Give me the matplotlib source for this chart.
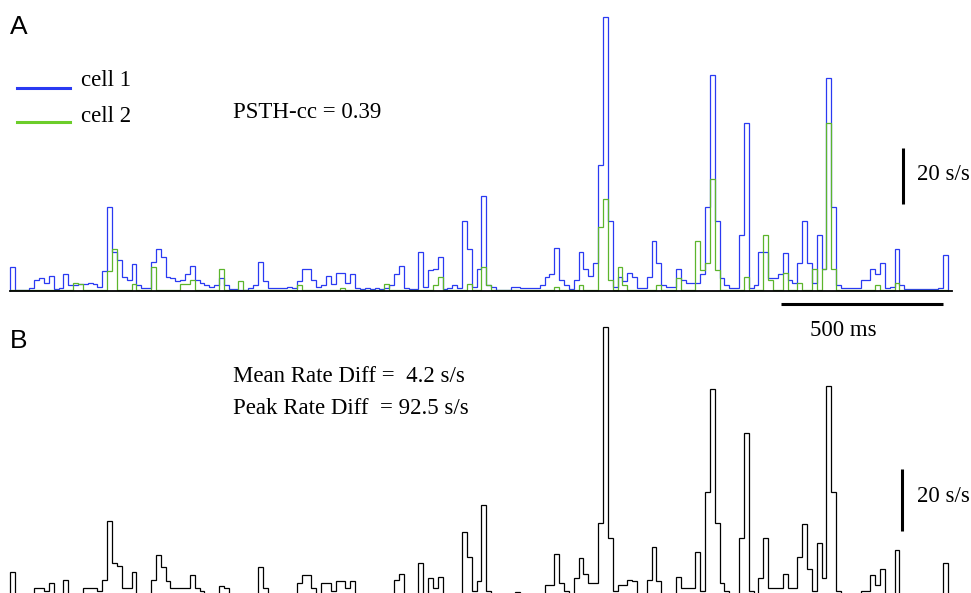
import numpy as np
import matplotlib
matplotlib.use("Agg")
import matplotlib.pyplot as plt
from matplotlib.lines import Line2D

# PSTH bins (ms) and firing rates (spikes/s)
bin_ms = 15.0

cell1 = [8.5, 0.5, 0.5, 0.5, 1, 4, 4.5, 3, 5.5, 0.7,
         1, 6, 2, 2, 2.5, 2.5, 3, 2.5, 1.5, 7,
         30, 14, 11, 5, 4, 9.5, 2, 1, 1, 10.5,
         15, 12, 5, 4.5, 3.5, 4, 6, 9, 4, 3,
         2, 1.5, 2, 4.5, 2, 0.7, 0.7, 0.5, 0.5, 1,
         2, 10.5, 3.5, 1, 1, 1.2, 1, 1.5, 1, 3.5,
         8, 8, 4, 1.5, 2, 5.5, 2.5, 6.5, 6.5, 3,
         6, 1, 0.7, 1, 0.7, 1, 0.7, 1, 2, 6,
         9, 1, 0.7, 0.7, 14, 1.5, 7.5, 8, 12, 0.7,
         1, 2, 1, 25, 15, 1.5, 8, 34, 2, 1.5,
         0.5, 0.5, 0.5, 1.5, 1.5, 1, 1, 1, 1, 2,
         5, 6, 15.5, 4, 2, 0.7, 4, 14, 8, 5.5,
         10, 45, 98, 25, 1.5, 5, 3.5, 6.5, 5, 1,
         1, 5, 18, 10, 2, 1.5, 1.5, 8, 4, 3,
         3, 3, 6, 30, 77, 25, 4.5, 2, 1, 1,
         20, 60, 1, 2, 14, 14, 4.5, 4.5, 6, 13.5,
         4, 3, 10, 25, 10, 3, 20, 8, 76, 30,
         2, 1, 1, 1, 1, 4, 4, 8, 6, 10,
         1, 1.5, 15, 2, 0.7, 0.7, 0.7, 0.7, 0.7, 0.7,
         0.7, 1, 13]

cell2 = [0.3, 0.3, 0.3, 0.3, 0.3, 0.3, 0.3, 0.3, 0.3, 0.3,
         0.3, 0.3, 0.3, 3, 2.5, 0.3, 0.3, 0.3, 0.3, 0.3,
         7, 15, 0.3, 0.3, 0.3, 2.5, 0.3, 0.3, 0.3, 8.5,
         0.3, 0.3, 0.3, 0.3, 0.3, 2.5, 2.5, 4, 0.3, 0.3,
         0.3, 0.3, 0.3, 8, 0.3, 0.3, 0.3, 3.5, 0.3, 0.3,
         0.3, 0.3, 0.3, 0.3, 0.3, 0.3, 0.3, 0.3, 0.3, 2,
         0.3, 0.3, 0.3, 0.3, 0.3, 0.3, 0.3, 0.3, 1, 0.3,
         0.3, 0.3, 0.3, 0.3, 0.3, 0.3, 0.3, 2.5, 0.3, 0.3,
         0.3, 0.3, 0.3, 0.3, 0.3, 0.3, 0.3, 2, 5, 0.3,
         0.3, 0.3, 0.3, 0.3, 2.5, 0.3, 0.3, 8.5, 2, 0.3,
         0.3, 0.3, 0.3, 0.3, 0.3, 0.3, 0.3, 0.3, 0.3, 0.3,
         0.3, 0.3, 1.5, 0.3, 0.3, 0.3, 0.3, 2, 0.3, 0.3,
         0.3, 23, 33, 4, 0.3, 8.5, 2, 0.3, 0.3, 0.3,
         0.3, 0.3, 0.3, 2, 0.3, 0.3, 0.3, 4.5, 0.3, 0.3,
         0.3, 18, 7.5, 10, 40, 7.5, 0.3, 0.3, 0.3, 0.3,
         0.3, 5, 0.3, 0.3, 0.3, 20, 4, 0.3, 0.3, 6.5,
         0.3, 0.3, 3, 0.3, 0.3, 8, 0.3, 8, 60, 8,
         0.3, 0.3, 0.3, 0.3, 0.3, 0.3, 0.3, 0.3, 2, 0.3,
         0.3, 0.3, 3, 0.3, 0.3, 0.3, 0.3, 0.3, 0.3, 0.3,
         0.3, 0.3, 0.3]

rate_diff = [9, 1.5, 1.5, 1.5, 1.5, 4, 4, 3, 5.5, 2,
             2, 6.5, 2, 2, 2, 4, 4, 4, 3, 6.5,
             25.5, 12, 11, 4, 4, 9, 2, 2, 2, 6.5,
             14.5, 10.5, 6, 4, 4, 4, 4, 8, 4, 3,
             2, 2, 2, 4.5, 4, 1.5, 1.5, 1.5, 1.5, 1.5,
             2, 10.5, 4, 2, 2, 2, 2, 2, 2, 5.5,
             8, 8, 4, 2, 5.5, 5.5, 3, 6, 6, 4,
             6, 1.5, 1.5, 1.5, 1.5, 1.5, 1.5, 1.5, 2, 6.5,
             8.5, 1.5, 1.5, 1.5, 12, 2, 7, 4, 7.5, 2,
             2, 2, 2, 22, 14, 3, 6, 30.5, 3, 2,
             1.5, 1.5, 1.5, 2, 2.5, 2, 2, 2, 2, 2,
             5, 5, 15, 5.5, 3, 2, 7, 13.5, 8.5, 5.5,
             5.5, 25, 88, 20, 3, 5, 5, 6.5, 6, 2,
             2, 6.5, 17, 6, 2, 2, 2, 7.5, 4, 4,
             4, 15.5, 3, 35, 68, 25, 5.5, 3, 2, 2,
             20, 54, 3, 2, 7, 20, 4, 4, 4, 8.5,
             4, 4, 14, 24.5, 10, 3, 18.5, 7, 69, 35,
             3, 2, 2, 2, 2, 3, 3, 8, 5, 10,
             2, 2, 16, 2, 1.5, 1.5, 1.5, 1.5, 1.5, 1.5,
             1.5, 1.5, 12]

edges = np.arange(len(cell1) + 1) * bin_ms

blue = '#2a3af2'
green = '#5cb52c'
serif = 'Liberation Serif'
fs = 16.5

W, H = 971, 593
fig = plt.figure(figsize=(W / 100, H / 100), dpi=100)

def fx(x):
    return x / W

def fy(y):
    return 1 - y / H

# px per ms and px per (s/s) for each panel
xs = 162 / 500.0
xlim = (-10 / xs, (W - 10) / xs)

axA = fig.add_axes([0, 0, 1, 1])
axA.set_xlim(*xlim)
axA.set_ylim(-(H - 291) / 2.8, 291 / 2.8)
axA.axis('off')

axB = fig.add_axes([0, 0, 1, 1])
axB.set_xlim(*xlim)
axB.set_ylim(-(H - 600) / 3.1, 600 / 3.1)
axB.axis('off')

# panel A
axA.plot([0, edges[-1] + 12], [0, 0], color='black', lw=1.3)
axA.stairs(cell1, edges, baseline=0, color=blue, lw=0.9)
axA.stairs(cell2, edges, baseline=0, color=green, lw=0.9)

# scale bars A
axA.plot([2380, 2880], [-4.6, -4.6], color='black', lw=2.2, solid_capstyle='butt')
axA.plot([2756, 2756], [31, 51], color='black', lw=2.2, solid_capstyle='butt')

# panel B
axB.stairs(rate_diff, edges, baseline=0, color='black', lw=0.9)
axB.plot([2753, 2753], [22.3, 42.3], color='black', lw=2.2, solid_capstyle='butt')

# legend
fig.add_artist(Line2D([fx(17), fx(70)], [fy(88), fy(88)], color=blue, lw=2.2))
fig.add_artist(Line2D([fx(17), fx(70)], [fy(122), fy(122)], color='#6ccd2a', lw=2.2))
fig.text(fx(81), fy(80), 'cell 1', family=serif, fontsize=fs, va='center')
fig.text(fx(81), fy(116), 'cell 2', family=serif, fontsize=fs, va='center')

fig.text(fx(10), fy(27), 'A', family='Liberation Sans', fontsize=19, va='center')
fig.text(fx(10), fy(341), 'B', family='Liberation Sans', fontsize=19, va='center')

fig.text(fx(233), fy(113), 'PSTH-cc = 0.39', family=serif, fontsize=fs, va='center')
fig.text(fx(917), fy(174), '20 s/s', family=serif, fontsize=fs, va='center')
fig.text(fx(917), fy(496), '20 s/s', family=serif, fontsize=fs, va='center')
fig.text(fx(843), fy(330), '500 ms', family=serif, fontsize=fs, va='center', ha='center')
fig.text(fx(233), fy(377), 'Mean Rate Diff =  4.2 s/s', family=serif, fontsize=fs, va='center')
fig.text(fx(233), fy(408), 'Peak Rate Diff  = 92.5 s/s', family=serif, fontsize=fs, va='center')

fig.savefig('out.png', dpi=100)
